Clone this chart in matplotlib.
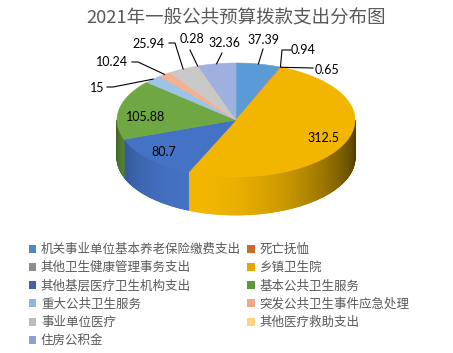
import numpy as np
import matplotlib
matplotlib.use('Agg')
import matplotlib.pyplot as plt
from matplotlib.patches import Polygon, Patch
from matplotlib.colors import to_rgb

plt.rcParams['font.family'] = ['Noto Sans CJK SC', 'DejaVu Sans']

# Data
categories = ['机关事业单位基本养老保险缴费支出', '死亡抚恤', '其他卫生健康管理事务支出',
              '乡镇卫生院', '其他基层医疗卫生机构支出', '基本公共卫生服务',
              '重大公共卫生服务', '突发公共卫生事件应急处理', '事业单位医疗',
              '其他医疗救助支出', '住房公积金']
values = [37.39, 0.94, 0.65, 312.5, 80.7, 105.88, 15, 10.24, 25.94, 0.28, 32.36]
labels = ['37.39', '0.94', '0.65', '312.5', '80.7', '105.88', '15', '10.24', '25.94', '0.28', '32.36']

# Styles
top_colors = ['#5B9BD5', '#ED7D31', '#A5A5A5', '#F2B600', '#4472C4', '#6FA843',
              '#9DC3E6', '#F6B08F', '#C8C8C8', '#FFD580', '#9DB0E0']
legend_colors = ['#4F88C0', '#D06A28', '#8E8E8E', '#E2A800', '#3D63AE', '#5F983A',
                 '#90B6DE', '#EFA789', '#BDBDBD', '#FFD27F', '#8E9FD2']

# Pie geometry (pixel coordinates)
cx, cy = 236, 120
rx, ry = 119, 57
depth = 38

# label placement: ('in', dx, dy) -> inside; else (text x, text y, leader points)
label_layout = [
    (263, 40, [(263, 49)]),
    (303, 50, [(291, 50), (282, 50)]),
    (327, 70, [(313, 68)]),
    ('in', 0, 0),
    ('in', -3, 1),
    ('in', 3, 6),
    (97, 88, [(107, 87), (113, 87)]),
    (112, 62, [(132, 62), (138, 62)]),
    (148, 44, [(169, 43), (175, 43)]),
    (192, 39, [(190, 50)]),
    (224, 43, [(222, 53)]),
]


def ell(t, r=1.0):
    t = np.radians(t)
    return cx + rx * r * np.cos(t), cy - ry * r * np.sin(t)


def shade(t):
    diff = np.radians(t - (-110))
    return 0.15 + 0.85 * ((np.cos(diff) + 1) / 2) ** 1.5


fig = plt.figure(figsize=(4.53, 3.53), dpi=100)
ax = fig.add_axes([0, 0, 1, 1])
ax.set_xlim(0, 453)
ax.set_ylim(353, 0)
ax.axis('off')

total = sum(values)
fracs = np.cumsum([0] + values) / total
t_bounds = 90 - fracs * 360

# side faces (front half only)
for i in range(len(values)):
    t1, t2 = t_bounds[i], t_bounds[i + 1]
    lo, hi = max(t2, -180), min(t1, 0)
    if lo >= hi:
        lo, hi = max(t2 + 360, -180), min(t1 + 360, 0)
        if lo >= hi:
            continue
    base = np.array(to_rgb(top_colors[i]))
    ts = np.linspace(hi, lo, max(2, int((hi - lo) * 2)))
    for a, b in zip(ts[:-1], ts[1:]):
        xa, ya = ell(a)
        xb, yb = ell(b)
        c = np.clip(base * shade((a + b) / 2), 0, 1)
        ax.add_patch(Polygon([(xa, ya), (xb, yb), (xb, yb + depth), (xa, ya + depth)],
                             closed=True, facecolor=c, edgecolor=c, lw=0.6))

# top faces
for i in range(len(values)):
    ts = np.linspace(t_bounds[i], t_bounds[i + 1], 200)
    xs, ys = ell(ts)
    pts = [(cx, cy)] + list(zip(xs, ys))
    ax.add_patch(Polygon(pts, closed=True, facecolor=top_colors[i],
                         edgecolor=top_colors[i], lw=0.4))

# data labels
for i, lab in enumerate(labels):
    tm = (t_bounds[i] + t_bounds[i + 1]) / 2
    lay = label_layout[i]
    if lay[0] == 'in':
        x, y = ell(tm, 0.8)
        ax.text(x + lay[1], y + lay[2], lab, ha='center', va='center', fontsize=9,
                color='black', family='Lato')
        continue
    tx, ty, pts = lay
    ax.text(tx, ty, lab, ha='center', va='center', fontsize=9, color='black',
            family='Lato')
    ax_, ay_ = ell(tm)
    line = pts + [(ax_, ay_)]
    ax.plot([p[0] for p in line], [p[1] for p in line], color='black', lw=0.8)

ax.text(236, 18, '2021年一般公共预算拨款支出分布图', ha='center', va='center',
        fontsize=13.3, color='#595959')

# legend, row-wise order
order = [0, 2, 4, 6, 8, 10, 1, 3, 5, 7, 9]
handles = [Patch(facecolor=legend_colors[k], edgecolor='none') for k in order]
fig.legend(handles, [categories[k] for k in order], ncol=2, frameon=False,
           loc='upper left', bbox_to_anchor=(29 / 453, 1 - 243 / 353),
           fontsize=9, labelcolor='#595959', handlelength=0.6, handleheight=0.6,
           handletextpad=0.35, columnspacing=0.5, labelspacing=0.42,
           borderaxespad=0, borderpad=0)

fig.savefig('out.png', dpi=100)
